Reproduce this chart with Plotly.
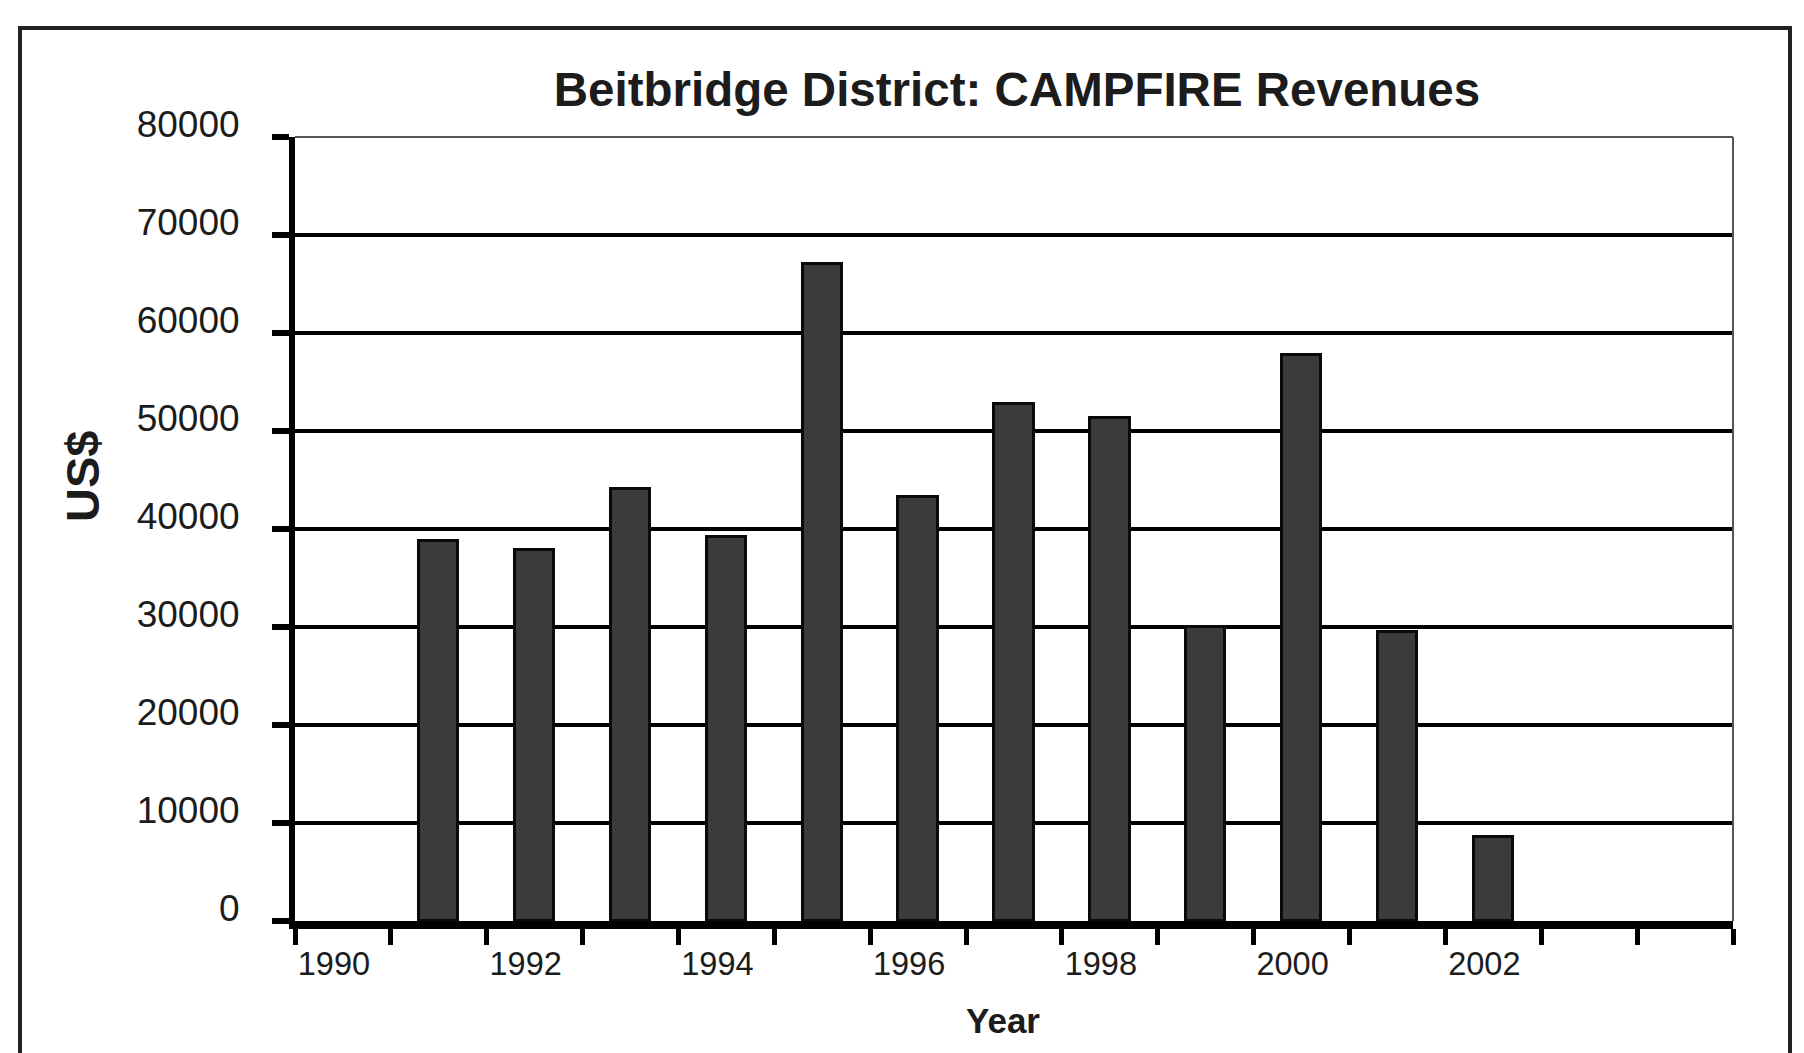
import plotly.graph_objects as go

# ---- data ----
years = [1991, 1992, 1993, 1994, 1995, 1996, 1997, 1998, 1999, 2000, 2001, 2002]
revenues = [38800, 37900, 44100, 39200, 67000, 43300, 52800, 51300, 30000, 57800, 29500, 8600]
year_tick_labels = [1990, 1992, 1994, 1996, 1998, 2000, 2002]
year_min, year_max = 1990, 2004
y_ticks = [0, 10000, 20000, 30000, 40000, 50000, 60000, 70000, 80000]

W, H = 1804, 1053
L, R, T, B = 295, 1733, 137, 921  # plot area in pixels
pw, ph = R - L, B - T

def px_x(px):
    return (px - L) / pw

def px_y(py):
    return (B - py) / ph

FONT = "Liberation Sans, Arial, sans-serif"
TXT = "#1c1c1c"

fig = go.Figure()
fig.add_trace(go.Bar(
    x=years, y=revenues, width=0.41,
    marker=dict(color="#3b3b3b", line=dict(color="#0a0a0a", width=3)),
    showlegend=False,
))

fig.update_layout(
    width=W, height=H,
    margin=dict(l=L, r=W - R, t=T, b=H - B, pad=0),
    paper_bgcolor="white", plot_bgcolor="white",
    font=dict(family=FONT, color=TXT),
    bargap=0,
    title=dict(
        text="<b>Beitbridge District: CAMPFIRE Revenues</b>",
        font=dict(size=47.5, family=FONT, color=TXT),
        x=1017 / W, xanchor="center",
        y=1 - 89 / H, yanchor="middle", xref="container", yref="container",
    ),
    xaxis=dict(
        range=[year_min - 0.5, year_max + 0.5],
        tickmode="array", tickvals=year_tick_labels,
        ticktext=[str(v) for v in year_tick_labels],
        ticks="", showgrid=False, zeroline=False,
        showline=True, linecolor="black", linewidth=8,
        tickfont=dict(size=32.5, family=FONT, color=TXT),
        ticklabelstandoff=7, ticklabelshift=-9,
        minor=dict(
            tickmode="array",
            tickvals=[y - 0.5 for y in range(year_min, year_max + 2)],
            ticks="outside", ticklen=16, tickwidth=5, tickcolor="black",
            showgrid=False,
        ),
    ),
    yaxis=dict(
        range=[0, 80000], tickmode="array", tickvals=y_ticks,
        ticktext=[str(v) for v in y_ticks],
        showgrid=True, gridcolor="black", gridwidth=3.5,
        zeroline=False,
        showline=True, linecolor="black", linewidth=6,
        ticks="outside", ticklen=17, tickwidth=6, tickcolor="black",
        tickfont=dict(size=37, family=FONT, color=TXT),
        ticklabelstandoff=25, ticklabelshift=-13,
    ),
    shapes=[
        # outer frame
        dict(type="rect", xref="paper", yref="paper",
             x0=px_x(20), x1=px_x(1790), y0=px_y(1070), y1=px_y(28),
             line=dict(color="#222222", width=4), fillcolor="rgba(0,0,0,0)",
             layer="above"),
        # thin plot-area border (top and right)
        dict(type="line", xref="paper", yref="paper", x0=0, x1=1, y0=1, y1=1,
             line=dict(color="#555555", width=2)),
        dict(type="line", xref="paper", yref="paper", x0=1, x1=1, y0=0, y1=1,
             line=dict(color="#555555", width=2)),
    ],
    annotations=[
        dict(text="<b>US$</b>", textangle=-90, xref="paper", yref="paper",
             x=px_x(82), y=px_y(477), xanchor="center", yanchor="middle",
             showarrow=False, font=dict(size=47, family=FONT, color=TXT)),
        dict(text="<b>Year</b>", xref="paper", yref="paper",
             x=px_x(1003), y=px_y(1020), xanchor="center", yanchor="middle",
             showarrow=False, font=dict(size=35, family=FONT, color=TXT)),
    ],
)

fig.write_html("out.html")
